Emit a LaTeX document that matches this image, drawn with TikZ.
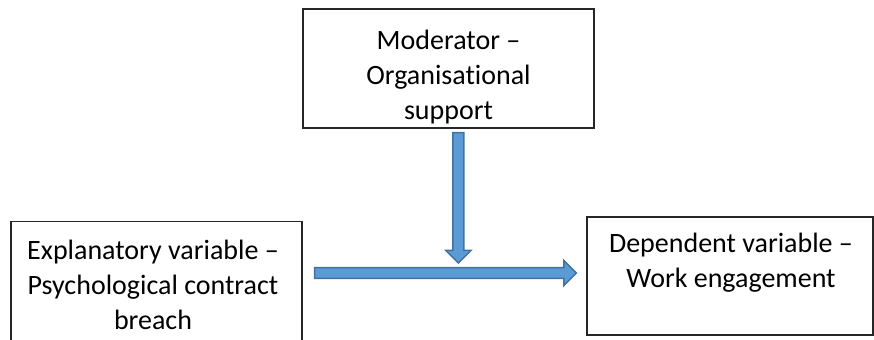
\documentclass[tikz,border=0pt]{standalone}
\usepackage{fontspec}
\setmainfont{Carlito}[Ligatures=NoCommon]
\usetikzlibrary{calc}
\definecolor{arrowfill}{HTML}{5B9BD5}
\definecolor{arrowline}{HTML}{41719C}

% block arrow from #1 to #2: shaft half width, head half width, head length
\newcommand\blockarrow[2]{%
  \coordinate (ba-n) at ($(#2)!9.4pt!(#1)$);
  \draw[blockarr]
    ($(#1)!4.1pt!90:(#2)$) -- ($(ba-n)!4.1pt!-90:(#1)$) --
    ($(ba-n)!9.4pt!-90:(#1)$) -- (#2) --
    ($(ba-n)!9.4pt!90:(#1)$) -- ($(ba-n)!4.1pt!90:(#1)$) --
    ($(#1)!4.1pt!-90:(#2)$) -- cycle;
}

\tikzset{
  box/.style={draw=black!85, line width=1pt, fill=white, inner sep=0pt},
  label/.style={align=center, inner sep=0pt, anchor=north,
    font=\fontsize{21pt}{26pt}\selectfont},
  blockarr/.style={fill=arrowfill, draw=arrowline, line width=1.1pt, line join=miter},
}

\begin{document}
\begin{tikzpicture}[x=0.75pt, y=-0.75pt]
\useasboundingbox (0,0) rectangle (874,339);
\begin{scope}
\clip (0,0) rectangle (874,339);

% boxes
\node[box, minimum width=218.25pt, minimum height=89.25pt] (mod) at (448.5,68.5) {};
\node[box, minimum width=218.25pt, minimum height=104pt] (expl) at (156.5,290.5) {};
\node[box, minimum width=214.5pt, minimum height=88.5pt] (dep) at (730,276) {};

% texts
\node[label] (modtext) at (448.5,30) {Moderator --\\Organisational\\support};
\node[label] (expltext) at (153,240) {Explanatory variable --\\Psychological contract\\breach};
\node[label] (deptext) at (731,233) {Dependent variable --\\Work engagement};

% arrow end points
\coordinate (vstart) at ($(mod.south)+(9.8,4)$);
\coordinate (vend) at (vstart |- 0,263);
\coordinate (hstart) at ($(expl.east)+(12,-17.5)$);
\coordinate (hend) at ($(dep.west |- hstart)+(-10,0)$);

\blockarrow{hstart}{hend}
\blockarrow{vstart}{vend}
\end{scope}
\end{tikzpicture}
\end{document}
